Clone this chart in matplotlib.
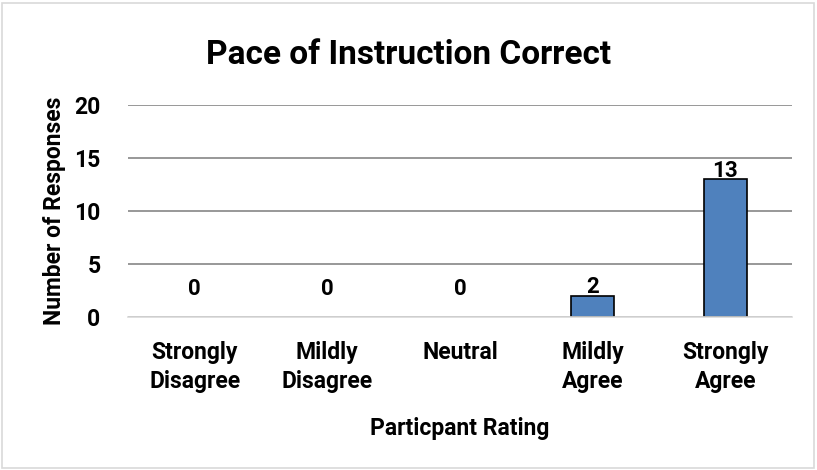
import matplotlib
matplotlib.use("Agg")
import matplotlib.pyplot as plt
from matplotlib.patches import Rectangle

categories = ["Strongly\nDisagree", "Mildly\nDisagree", "Neutral", "Mildly\nAgree", "Strongly\nAgree"]
responses = [0, 0, 0, 2, 13]
yticks = [0, 5, 10, 15, 20]

plt.rcParams['font.family'] = ['Roboto', 'DejaVu Sans']
plt.rcParams['font.weight'] = 'bold'

fig = plt.figure(figsize=(8.17, 4.70), dpi=100)
ax = fig.add_axes([0.157, 0.3255, 0.812, 0.451])

x = list(range(len(categories)))
bars = ax.bar(x, responses, width=0.32, color='#4F81BD', edgecolor='black', linewidth=1.2, zorder=3)
for b, v in zip(bars, responses):
    if v == 0:
        b.set_linewidth(0)

for xi, v in zip(x, responses):
    pad = 20 if v == 0 else 6
    ax.annotate(str(v), (xi, v), xytext=(0, pad), textcoords='offset points',
                ha='center', va='center', fontsize=16, fontweight='bold')

ax.set_xlim(-0.5, len(categories) - 0.5)
ax.set_ylim(0, 20)
ax.set_yticks(yticks)
ax.set_xticks(x)
ax.set_xticklabels(categories, fontsize=16.5, fontweight='bold', linespacing=1.35)
ax.tick_params(axis='y', labelsize=16.5, length=0, pad=20)
ax.tick_params(axis='x', length=0, pad=17)
ax.yaxis.grid(True, color='#868686', linewidth=1.2, zorder=0)
for side in ['top', 'right', 'left']:
    ax.spines[side].set_visible(False)
ax.spines['bottom'].set_color('#d9d9d9')
ax.spines['bottom'].set_linewidth(1.2)
ax.spines['bottom'].set_zorder(4)

ax.set_xlabel("Particpant Rating", fontsize=16.5, fontweight='bold', labelpad=17)
ax.set_ylabel("Number of Responses", fontsize=16.5, fontweight='bold', labelpad=6)
fig.suptitle("Pace of Instruction Correct", fontsize=24, fontweight='bold', y=0.917)

fig.patches.append(Rectangle((0.003, 0.004), 0.993, 0.99, transform=fig.transFigure,
                             fill=False, edgecolor='#d9d9d9', linewidth=1.2))

fig.savefig("out.png", dpi=100)
